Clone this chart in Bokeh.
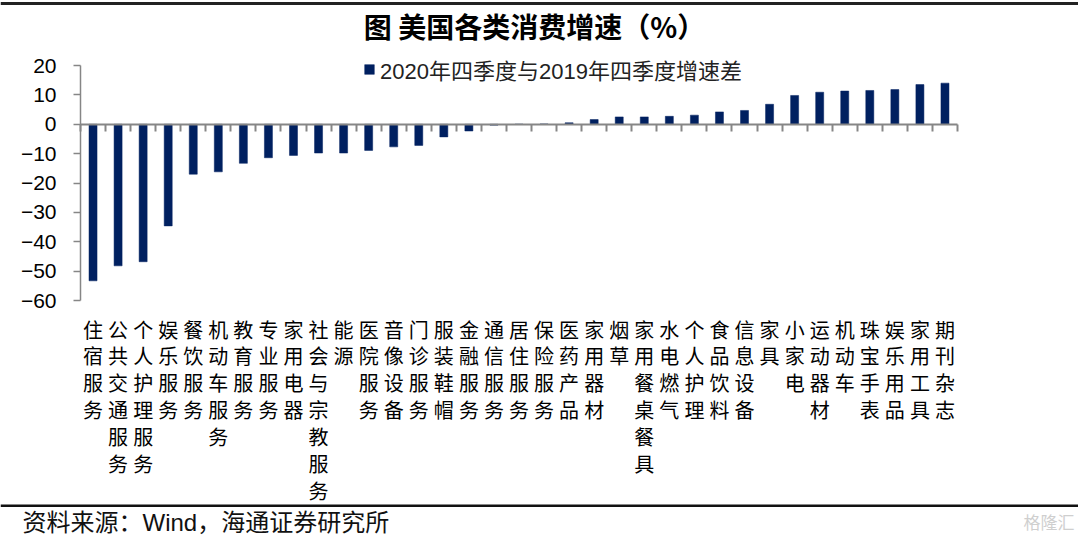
from bokeh.plotting import figure
from bokeh.models import (Range1d, FixedTicker, LinearAxis, Legend, LegendItem,
                          Label, BoxAnnotation)
from bokeh.embed import file_html
from bokeh.resources import INLINE

# ---- data ----
categories = [
    "住宿服务", "公共交通服务", "个人护理服务", "娱乐服务", "餐饮服务", "机动车服务",
    "教育服务", "专业服务", "家用电器", "社会与宗教服务", "能源", "医院服务",
    "音像设备", "门诊服务", "服装鞋帽", "金融服务", "通信服务", "居住服务",
    "保险服务", "医药产品", "家用器材", "烟草", "家用餐桌餐具", "水电燃气",
    "个人护理", "食品饮料", "信息设备", "家具", "小家电", "运动器材",
    "机动车", "珠宝手表", "娱乐用品", "家用工具", "期刊杂志",
]
growth_diff = [
    -53.3, -48.2, -46.8, -34.6, -17.0, -16.2,
    -13.3, -11.4, -10.6, -9.8, -9.8, -8.9,
    -7.7, -7.2, -4.3, -2.3, -0.3, 0.0,
    0.1, 0.5, 1.6, 2.5, 2.5, 2.7,
    3.1, 4.2, 4.7, 6.8, 9.8, 10.9,
    11.3, 11.5, 11.8, 13.5, 14.0,
]
y_ticks = [-60, -50, -40, -30, -20, -10, 0, 10, 20]
y_min, y_max = -60, 20
series_name = "2020年四季度与2019年四季度增速差"
title_text = "图 美国各类消费增速（%）"
source_text = "资料来源：Wind，海通证券研究所"

BAR_COLOR = "#002060"
AXIS_GRAY = "#868686"
CJK = "Noto Sans CJK SC"
MIXED = "Liberation Sans, Noto Sans CJK SC"

n = len(categories)
centers = [i + 0.5 for i in range(n)]
bounds = list(range(n + 1))

# ---- layout geometry (pixels inside the figure) ----
W, H = 1078, 542
PLOT_L, PLOT_R = 80, 957      # pixel x of category 0 edge and category n edge
PLOT_T, PLOT_B = 65, 300      # pixel y of y_max and y_min
ux = n / (PLOT_R - PLOT_L)
uy = (y_max - y_min) / (PLOT_B - PLOT_T)


def px2x(px):
    return (px - PLOT_L) * ux


def py2y(py):
    return y_max - (py - PLOT_T) * uy


p = figure(width=W, height=H,
           x_range=Range1d(px2x(0), px2x(W)), y_range=Range1d(py2y(H), py2y(0)),
           x_axis_type=None, y_axis_type=None,
           output_backend="svg", toolbar_location=None, min_border=0)
p.outline_line_color = None
p.grid.visible = False

r = p.vbar(x=centers, top=growth_diff, bottom=0, width=0.32, fill_color=BAR_COLOR,
           line_color=BAR_COLOR, line_width=0.5)

# y axis
ya = LinearAxis(fixed_location=0, bounds=(y_min, y_max),
                ticker=FixedTicker(ticks=y_ticks, minor_ticks=[]))
ya.axis_line_color = AXIS_GRAY
ya.axis_line_width = 1.5
ya.major_tick_line_color = AXIS_GRAY
ya.major_tick_line_width = 1.5
ya.major_tick_in = 0
ya.major_tick_out = 7
ya.minor_tick_line_color = None
ya.major_label_text_font = "Liberation Sans"
ya.major_label_text_font_size = "21px"
ya.major_label_text_color = "black"
ya.major_label_standoff = 17
p.add_layout(ya, "left")

# zero-line axis with ticks at category boundaries
za = LinearAxis(fixed_location=0, bounds=(0, n),
                ticker=FixedTicker(ticks=bounds, minor_ticks=[]))
za.major_label_overrides = {b: "" for b in bounds}
za.axis_line_color = AXIS_GRAY
za.axis_line_width = 2
za.major_tick_line_color = AXIS_GRAY
za.major_tick_line_width = 2
za.major_tick_in = 7
za.major_tick_out = 0
za.minor_tick_line_color = None
za.major_label_standoff = 0
p.add_layout(za, "above")

# category label axis under the plot area
xa = LinearAxis(fixed_location=y_min, bounds=(0, n),
                ticker=FixedTicker(ticks=centers, minor_ticks=[]))
xa.major_label_overrides = {c: "\n".join(list(lab)) for c, lab in zip(centers, categories)}
xa.axis_line_color = None
xa.major_tick_line_color = None
xa.minor_tick_line_color = None
xa.major_label_text_font = CJK
xa.major_label_text_font_size = "20px"
xa.major_label_text_line_height = 0.93
xa.major_label_text_color = "black"
xa.major_label_standoff = 8
p.add_layout(xa, "below")

legend = Legend(items=[LegendItem(label=series_name, renderers=[r])],
                location=(363, H - PLOT_T - 20),
                border_line_color=None, background_fill_alpha=0, padding=0, margin=0,
                glyph_width=12, glyph_height=12, label_standoff=5, label_height=20,
                label_text_font=MIXED, label_text_font_size="22px",
                label_text_color="#222222")
p.add_layout(legend)

# ---- title, rules and source ----
p.add_layout(BoxAnnotation(left=px2x(0), right=px2x(W), top=py2y(1.5), bottom=py2y(4.5),
                           fill_color="#222222", fill_alpha=1, line_alpha=0))
p.add_layout(Label(x=px2x(534), y=py2y(25), text=title_text,
                   text_font=CJK, text_font_style="bold", text_font_size="28px",
                   text_align="center", text_baseline="middle", text_color="black"))
p.add_layout(BoxAnnotation(left=px2x(0), right=px2x(W), top=py2y(504), bottom=py2y(506.5),
                           fill_color="#111111", fill_alpha=1, line_alpha=0))
p.add_layout(Label(x=px2x(22), y=py2y(522), text=source_text,
                   text_font=MIXED, text_font_size="24px",
                   text_align="left", text_baseline="middle", text_color="#111111"))
p.add_layout(Label(x=px2x(1074), y=py2y(521), text="格隆汇",
                   text_font=CJK, text_font_size="17px",
                   text_align="right", text_baseline="middle", text_color="#cfcfcf"))

open("out.html", "w").write(file_html(p, INLINE))
